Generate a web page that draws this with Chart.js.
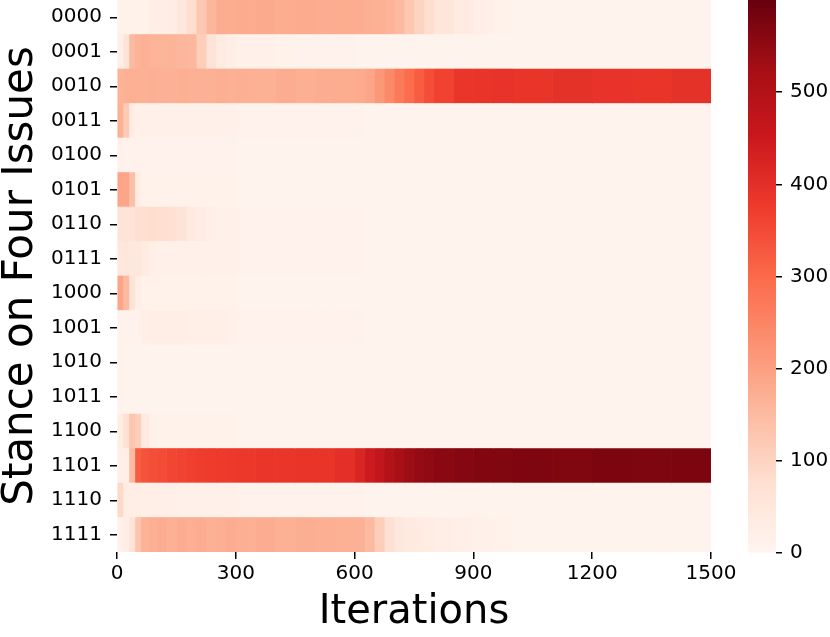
<!doctype html>
<html>

<head>
    <title>Stance heatmap</title>
    <script src="https://cdn.jsdelivr.net/npm/chart.js"></script>
    <style>
        body { margin: 0; background: #fff; }
        #wrap { position: relative; width: 830px; height: 637px; }
        #heat { position: absolute; left: 0; top: 0; }
        #bar { position: absolute; left: 740px; top: 0; }
    </style>
</head>

<body>
    <div id="wrap">
        <canvas id="heat" width="740" height="637"></canvas>
        <canvas id="bar" width="90" height="637"></canvas>
    </div>

    <script>
    const MAXIMO = 600;

    const rowLabels = ['0000', '0001', '0010', '0011', '0100', '0101', '0110', '0111',
                       '1000', '1001', '1010', '1011', '1100', '1101', '1110', '1111'];

    // iteration bin edges (each row has one value per bin)
    const binEdges = [0, 15, 30, 45, 60, 80, 100, 125, 150, 175, 200, 225, 250, 275, 300, 350, 400, 450,
                      500, 550, 600, 625, 650, 675, 700, 725, 750, 775, 800, 850, 900, 950, 1000,
                      1100, 1200, 1300, 1400, 1500];

    const s0000 = [12, 12, 12, 12, 12, 25, 25, 28, 45, 80, 125, 160, 175, 178, 180, 182, 178, 180, 176,
                   178, 175, 172, 170, 165, 150, 125, 100, 80, 55, 35, 20, 12, 8, 8, 8, 8, 8];
    const s0001 = [20, 60, 150, 165, 168, 165, 162, 165, 160, 155, 110, 60, 35, 25, 18, 14, 12, 10, 10,
                   9, 8, 8, 8, 8, 8, 8, 8, 8, 8, 8, 8, 8, 8, 8, 8, 8, 8];
    const s0010 = [165, 170, 172, 170, 168, 172, 170, 168, 172, 170, 168, 170, 172, 170, 172, 170, 175, 172, 175,
                   178, 180, 190, 215, 240, 270, 295, 320, 345, 365, 385, 390, 392, 390, 395, 392, 390, 395];
    const s0011 = [170, 120, 30, 15, 15, 15, 15, 15, 15, 15, 15, 15, 15, 15, 10, 10, 10, 10, 10,
                   10, 10, 8, 8, 8, 8, 8, 8, 8, 8, 8, 8, 8, 8, 8, 8, 8, 8];
    const s0100 = [15, 10, 10, 10, 10, 10, 10, 10, 10, 10, 10, 10, 10, 10, 7, 7, 7, 7, 7,
                   7, 7, 7, 7, 7, 7, 7, 7, 7, 7, 7, 7, 7, 7, 7, 7, 7, 7];
    const s0101 = [190, 190, 140, 30, 12, 12, 12, 12, 12, 12, 12, 12, 12, 12, 8, 8, 8, 8, 8,
                   8, 8, 8, 8, 8, 8, 8, 8, 8, 8, 8, 8, 8, 8, 8, 8, 8, 8];
    const s0110 = [60, 60, 65, 75, 78, 80, 78, 72, 60, 40, 28, 20, 15, 15, 10, 10, 10, 10, 10,
                   10, 10, 8, 8, 8, 8, 8, 8, 8, 8, 8, 8, 8, 8, 8, 8, 8, 8];
    const s0111 = [50, 52, 50, 45, 35, 22, 14, 14, 14, 14, 14, 14, 14, 14, 10, 10, 10, 10, 10,
                   10, 10, 8, 8, 8, 8, 8, 8, 8, 8, 8, 8, 8, 8, 8, 8, 8, 8];
    const s1000 = [190, 150, 60, 25, 12, 12, 12, 12, 12, 12, 12, 12, 12, 12, 8, 8, 8, 8, 8,
                   8, 8, 8, 8, 8, 8, 8, 8, 8, 8, 8, 8, 8, 8, 8, 8, 8, 8];
    const s1001 = [10, 10, 10, 10, 22, 25, 25, 25, 25, 22, 22, 22, 20, 18, 10, 10, 10, 10, 10,
                   10, 10, 8, 8, 8, 8, 8, 8, 8, 8, 8, 8, 8, 8, 8, 8, 8, 8];
    const s1010 = [10, 7, 7, 7, 7, 7, 7, 7, 7, 7, 7, 7, 7, 7, 7, 7, 7, 7, 7,
                   7, 7, 7, 7, 7, 7, 7, 7, 7, 7, 7, 7, 7, 7, 7, 7, 7, 7];
    const s1011 = [10, 7, 7, 7, 7, 7, 7, 7, 7, 7, 7, 7, 7, 7, 7, 7, 7, 7, 7,
                   7, 7, 7, 7, 7, 7, 7, 7, 7, 7, 7, 7, 7, 7, 7, 7, 7, 7];
    const s1100 = [30, 70, 130, 110, 40, 18, 12, 12, 12, 12, 12, 12, 12, 12, 8, 8, 8, 8, 8,
                   8, 8, 8, 8, 8, 8, 8, 8, 8, 8, 8, 8, 8, 8, 8, 8, 8, 8];
    const s1101 = [20, 25, 150, 320, 335, 345, 350, 358, 362, 368, 372, 375, 378, 380, 382, 385, 385, 388, 390,
                   400, 420, 445, 470, 500, 520, 535, 545, 552, 558, 565, 568, 570, 572, 570, 575, 572, 575];
    const s1110 = [90, 30, 25, 25, 22, 22, 20, 20, 18, 18, 15, 15, 15, 15, 10, 10, 10, 10, 10,
                   10, 10, 8, 8, 8, 8, 8, 8, 8, 8, 8, 8, 8, 8, 8, 8, 8, 8];
    const s1111 = [15, 25, 60, 130, 165, 172, 175, 170, 175, 172, 175, 170, 172, 175, 172, 175, 170, 174, 172,
                   170, 168, 150, 110, 70, 50, 40, 35, 30, 25, 20, 15, 12, 8, 8, 8, 8, 8];

    const rows = [s0000, s0001, s0010, s0011, s0100, s0101, s0110, s0111,
                  s1000, s1001, s1010, s1011, s1100, s1101, s1110, s1111];

    const colorTicks = [0, 100, 200, 300, 400, 500];

    // matplotlib "Reds"
    const reds = ['#fff5f0', '#fee0d2', '#fcbba1', '#fc9272', '#fb6a4a', '#ef3b2c', '#cb181d', '#a50f15', '#67000d'];

    function hexRgb(h) {
        return [parseInt(h.slice(1, 3), 16), parseInt(h.slice(3, 5), 16), parseInt(h.slice(5, 7), 16)];
    }

    function colorFor(v) {
        var t = Math.max(0, Math.min(1, v / MAXIMO)) * (reds.length - 1);
        var i = Math.min(Math.floor(t), reds.length - 2);
        var f = t - i;
        var a = hexRgb(reds[i]), b = hexRgb(reds[i + 1]);
        var c = a.map((x, k) => Math.round(x + (b[k] - x) * f));
        return 'rgb(' + c.join(',') + ')';
    }

    Chart.defaults.font.family = 'DejaVu Sans';
    Chart.defaults.color = '#000';

    var datasets = binEdges.slice(0, -1).map((start, j) => ({
        data: rowLabels.map(lab => ({ y: lab, x: [start, binEdges[j + 1]] })),
        backgroundColor: rows.map(r => colorFor(r[j])),
        borderWidth: 0,
        barPercentage: 1,
        categoryPercentage: 1,
        grouped: false
    }));

    var heat = new Chart(document.getElementById('heat').getContext('2d'), {
        type: 'bar',
        data: { labels: rowLabels, datasets: datasets },
        options: {
            indexAxis: 'y',
            responsive: false,
            animation: false,
            devicePixelRatio: 1,
            layout: { padding: { left: 0, right: 29, top: 0, bottom: 0 } },
            plugins: { legend: { display: false }, tooltip: { enabled: false } },
            scales: {
                x: {
                    type: 'linear',
                    min: 0,
                    max: 1500,
                    ticks: { stepSize: 300, font: { size: 20 }, padding: 3, maxRotation: 0, callback: v => String(v) },
                    grid: { drawOnChartArea: false, drawTicks: true, tickLength: 7, color: '#000', lineWidth: 1.5 },
                    border: { display: false },
                    title: { display: true, text: 'Iterations', font: { size: 40 }, padding: { top: 0, bottom: 0 } },
                    afterFit: s => { s.height = 85; s.paddingLeft = 0; s.paddingRight = 0; }
                },
                y: {
                    type: 'category',
                    offset: true,
                    ticks: { font: { size: 20 }, padding: 8 },
                    grid: { offset: false, drawOnChartArea: false, drawTicks: true, tickLength: 7, color: '#000', lineWidth: 1.5 },
                    border: { display: false },
                    title: { display: true, text: 'Stance on Four Issues', font: { size: 42, lineHeight: 1 }, padding: { top: 0, bottom: 0 } },
                    afterFit: s => { s.width = 117; s.paddingTop = 0; s.paddingBottom = 0; }
                }
            }
        }
    });

    var colorBar = new Chart(document.getElementById('bar').getContext('2d'), {
        type: 'bar',
        data: {
            labels: ['cb'],
            datasets: [{
                data: [[0, MAXIMO]],
                barPercentage: 1,
                categoryPercentage: 1,
                borderWidth: 0,
                backgroundColor: function (ctx) {
                    var ca = ctx.chart.chartArea;
                    if (!ca) return reds[0];
                    var g = ctx.chart.ctx.createLinearGradient(0, ca.bottom, 0, ca.top);
                    reds.forEach((c, i) => g.addColorStop(i / (reds.length - 1), c));
                    return g;
                }
            }]
        },
        options: {
            responsive: false,
            animation: false,
            devicePixelRatio: 1,
            layout: { padding: { left: 8, right: 0, top: 0, bottom: 84 } },
            plugins: { legend: { display: false }, tooltip: { enabled: false } },
            scales: {
                x: { display: false },
                y: {
                    position: 'right',
                    min: 0,
                    max: MAXIMO,
                    afterBuildTicks: s => { s.ticks = colorTicks.map(v => ({ value: v })); },
                    ticks: { font: { size: 20 }, padding: 8 },
                    grid: { drawOnChartArea: false, drawTicks: true, tickLength: 6, color: '#000', lineWidth: 1.5 },
                    border: { display: false },
                    afterFit: s => { s.width = 54; s.paddingTop = 0; s.paddingBottom = 0; }
                }
            }
        }
    });
    </script>
</body>

</html>
